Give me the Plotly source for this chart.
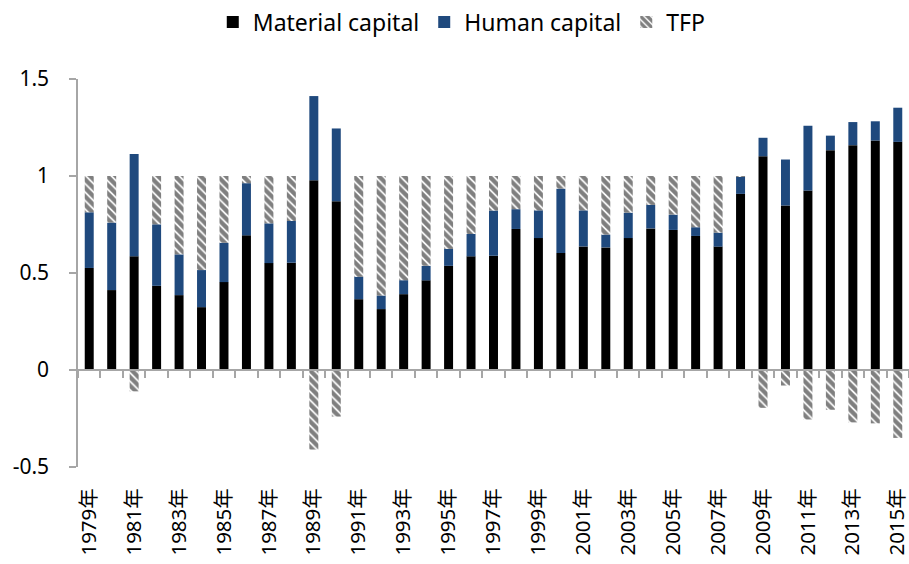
import plotly.graph_objects as go

years = list(range(1979, 2016))
labels = [f"{y}年" for y in years]

material = [0.526, 0.412, 0.586, 0.434, 0.386, 0.324, 0.453, 0.694, 0.551, 0.553,
            0.978, 0.870, 0.365, 0.314, 0.391, 0.462, 0.537, 0.586, 0.589, 0.727,
            0.680, 0.603, 0.637, 0.632, 0.680, 0.730, 0.722, 0.691, 0.636, 0.908,
            1.102, 0.848, 0.925, 1.133, 1.159, 1.183, 1.176]
human = [0.287, 0.348, 0.527, 0.317, 0.210, 0.191, 0.203, 0.269, 0.205, 0.215,
         0.434, 0.375, 0.116, 0.070, 0.072, 0.075, 0.087, 0.115, 0.233, 0.102,
         0.143, 0.332, 0.186, 0.066, 0.131, 0.121, 0.079, 0.045, 0.072, 0.088,
         0.095, 0.237, 0.334, 0.075, 0.119, 0.099, 0.176]
tfp = [0.187, 0.240, -0.110, 0.249, 0.404, 0.485, 0.344, 0.037, 0.244, 0.232,
       -0.410, -0.240, 0.519, 0.616, 0.537, 0.463, 0.376, 0.299, 0.178, 0.171,
       0.177, 0.065, 0.177, 0.302, 0.189, 0.149, 0.199, 0.264, 0.292, 0.004,
       -0.195, -0.080, -0.255, -0.205, -0.270, -0.275, -0.350]

FONT = "Noto Sans, Noto Sans CJK SC, sans-serif"
AXIS = "#a6a6a6"

fig = go.Figure()
fig.add_trace(go.Bar(x=labels, y=material, name="Material capital",
                     marker=dict(color="#000000", line=dict(width=0))))
fig.add_trace(go.Bar(x=labels, y=human, name="Human capital",
                     marker=dict(color="#1f497d", line=dict(width=0))))
fig.add_trace(go.Bar(x=labels, y=tfp, name="TFP",
                     marker=dict(color="#ffffff", line=dict(width=0),
                                 pattern=dict(shape="\\", fgcolor="#000000", bgcolor="#ffffff",
                                              size=6, solidity=0.7, fillmode="overlay"))))
# carrier for the zero-line category axis (draws no marks)
fig.add_trace(go.Scatter(x=labels, y=[None] * len(labels), xaxis="x2", mode="lines",
                         showlegend=False, hoverinfo="skip"))

n = len(labels)
fig.update_layout(
    width=909, height=564,
    barmode="relative", bargap=0.6,
    plot_bgcolor="white", paper_bgcolor="white",
    margin=dict(l=78, r=0, t=79, b=97),
    font=dict(family=FONT, size=20, color="#000000"),
    legend=dict(orientation="h", xref="container", yref="container",
                x=0.508, xanchor="center", y=0.961, yanchor="middle",
                font=dict(size=23), itemwidth=30, traceorder="normal"),
    xaxis=dict(type="category", categoryorder="array", categoryarray=labels,
               range=[-0.5, n - 0.5],
               tickmode="array", tickvals=labels[::2], ticktext=labels[::2],
               tickangle=-90, ticks="outside", ticklen=12, tickcolor="rgba(0,0,0,0)",
               showline=False, showgrid=False, zeroline=False,
               tickfont=dict(size=20.5)),
    xaxis2=dict(type="category", categoryorder="array", categoryarray=labels,
                overlaying="x", anchor="free", position=0.25, side="bottom",
                range=[-0.5, n - 0.5], showline=True, linecolor=AXIS, linewidth=1.5,
                ticks="outside", ticklen=7, tickcolor=AXIS, tickwidth=1.5,
                tickmode="linear", tick0=0, dtick=1, tickson="boundaries",
                showticklabels=False, showgrid=False, zeroline=False),
    yaxis=dict(range=[-0.5, 1.5], tickmode="array", tickvals=[-0.5, 0, 0.5, 1, 1.5],
               ticktext=["-0.5", "0", "0.5", "1", "1.5"],
               showline=True, linecolor=AXIS, linewidth=1.5,
               ticks="outside", ticklen=7, tickcolor=AXIS, tickwidth=1.5,
               ticklabelstandoff=16,
               showgrid=False, zeroline=False, tickfont=dict(size=21)),
)

fig.write_html("out.html", config={"displayModeBar": False},
               post_script="document.body.style.margin='0';")
